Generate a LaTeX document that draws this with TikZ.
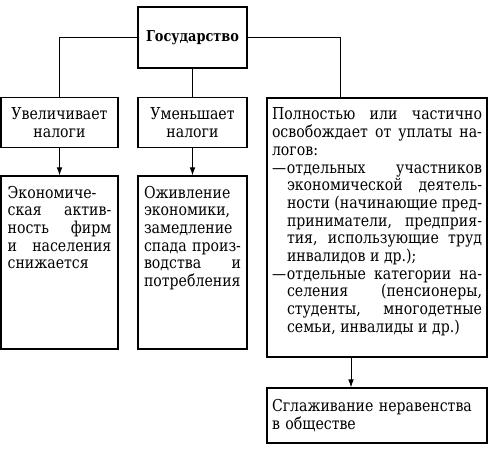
\documentclass[tikz,border=0pt]{standalone}
\usepackage{fontspec}
\setmainfont{DejaVu Serif}[FakeStretch=0.86]
\usetikzlibrary{arrows.meta}
\tikzset{
  box/.style={rectangle,draw,line width=1.1pt,inner xsep=0.2cm,inner ysep=0.3cm,
    font=\fontsize{14}{15.1}\selectfont},
  head/.style={box,minimum width=3.27cm,minimum height=1.83cm,
    font=\fontsize{12.8}{15.1}\selectfont\bfseries},
  act/.style={box,align=center,minimum height=1.47cm},
  link/.style={line width=0.7pt},
  arr/.style={link,-{Latex[length=2.4mm,width=1.7mm]}}
}
% text set at the top of a fixed box, justified line by line
\newcommand{\topcell}[3]{\parbox[c][#2][t]{#1}{\hyphenpenalty=10000 #3}}
\newcommand{\dashitem}{\noindent\hangindent=0.45cm\hangafter=1\makebox[0.45cm][l]{—}}

\begin{document}
\begin{tikzpicture}
  \useasboundingbox (0,0) rectangle (14.67,-13.44);
  \node[head] (gos) at (5.775,-1.125) {Государство};
  \node[act,minimum width=3.51cm] (raise) at (1.785,-3.675) {Увеличивает\\налоги};
  \node[act,minimum width=3.27cm] (cut) at (5.775,-3.675) {Уменьшает\\налоги};
  \node[box,inner xsep=0.15cm] (free) at (11.31,-6.825) {\topcell{6.3cm}{7.17cm}{%
    Полностью или частично\linebreak освобождает от уплаты на-\linebreak логов:\par
    \dashitem отдельных участников\linebreak экономической деятель-\linebreak
    ности (начинающие пред-\linebreak приниматели, предприя-\linebreak
    тия, использующие труд\linebreak инвалидов и др.);\par
    \dashitem отдельные категории на-\linebreak селения (пенсионеры,\linebreak
    студенты, многодетные\linebreak семьи, инвалиды и др.)}};
  \node[box] (slow) at (1.785,-7.875) {\topcell{3.11cm}{4.59cm}{%
    Экономиче-\linebreak ская актив-\linebreak ность фирм\linebreak
    и населения\linebreak снижается}};
  \node[box,inner xsep=0.18cm] (boost) at (5.775,-7.875) {\topcell{2.91cm}{4.59cm}{%
    Оживление\linebreak экономики,\linebreak замедление\linebreak
    спада произ-\linebreak водства и\linebreak потребления}};
  \node[box,inner xsep=0.15cm,text width=6.3cm,align=left,minimum height=1.65cm] (even)
    at (11.31,-12.465) {Сглаживание неравенства\\в обществе};

  \draw[link] (gos.west) -| (raise.north);
  \draw[link] (gos.south) -- (cut.north);
  \draw[link] (gos.east) -| ([xshift=-1.11cm]free.north);
  \draw[arr] (raise.south) -- (slow.north);
  \draw[arr] (cut.south) -- (boost.north);
  \draw[arr] ([xshift=-0.78cm]free.south) -- ([xshift=-0.78cm]even.north);
\end{tikzpicture}
\end{document}
